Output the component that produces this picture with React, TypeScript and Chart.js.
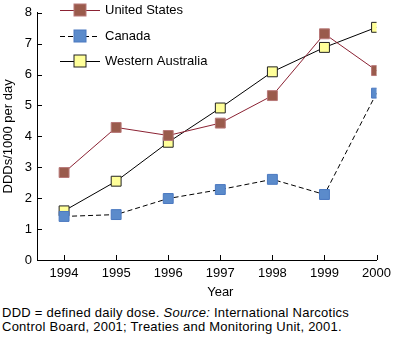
import React, { useEffect, useRef } from "react";
import { Chart, registerables } from "chart.js";

Chart.register(...registerables);

const years = [1994, 1995, 1996, 1997, 1998, 1999, 2000];
const unitedStates = [2.83, 4.29, 4.03, 4.43, 5.32, 7.32, 6.13];
const canada = [1.41, 1.47, 1.99, 2.28, 2.61, 2.12, 5.4];
const westernAustralia = [1.59, 2.55, 3.81, 4.92, 6.09, 6.88, 7.53];
const yTicks = [0, 1, 2, 3, 4, 5, 6, 7, 8];
const seriesNames = ["United States", "Canada", "Western Australia"];

const FONT = "Liberation Sans, Arial, Helvetica, sans-serif";

const customPlugin = {
  id: "custom",
  afterDraw(chart: any) {
    const ctx = chart.ctx;
    const x = chart.scales.x;
    const y = chart.scales.y;
    ctx.save();
    // inward tick marks
    ctx.strokeStyle = "#000";
    ctx.lineWidth = 1;
    ctx.beginPath();
    years.forEach((v) => {
      const px = Math.round(x.getPixelForValue(v)) + 0.5;
      ctx.moveTo(px, y.bottom);
      ctx.lineTo(px, y.bottom - 5);
    });
    yTicks.forEach((v) => {
      const py = Math.round(y.getPixelForValue(v)) + 0.5;
      ctx.moveTo(x.left, py);
      ctx.lineTo(x.left + 5, py);
    });
    ctx.stroke();
    // x title
    ctx.fillStyle = "#000";
    ctx.font = `13px ${FONT}`;
    ctx.textAlign = "center";
    ctx.textBaseline = "middle";
    const cx = (x.getPixelForValue(years[0]) + x.getPixelForValue(years[years.length - 1])) / 2;
    ctx.fillText("Year", cx, 292);
    // legend
    const rows = [10, 36, 61];
    chart.data.datasets.forEach((ds: any, i: number) => {
      const ry = rows[i] + 0.5;
      ctx.strokeStyle = ds.borderColor;
      ctx.lineWidth = 1;
      ctx.setLineDash(ds.borderDash || []);
      ctx.beginPath();
      ctx.moveTo(60, ry);
      ctx.lineTo(100, ry);
      ctx.stroke();
      ctx.setLineDash([]);
      ctx.fillStyle = ds.pointBackgroundColor;
      ctx.fillRect(74, ry - 6.5, 12, 12);
      ctx.strokeStyle = ds.pointBorderColor;
      ctx.strokeRect(74, ry - 6.5, 12, 12);
      ctx.fillStyle = "#000";
      ctx.textAlign = "left";
      ctx.textBaseline = "middle";
      ctx.fillText(ds.label, 105, rows[i]);
    });
    ctx.restore();
  },
};

export default function App() {
  const ref = useRef<HTMLCanvasElement>(null);
  useEffect(() => {
    const mk = (arr: number[]) => years.map((yr, i) => ({ x: yr, y: arr[i] }));
    const chart = new Chart(ref.current!, {
      type: "line",
      data: {
        datasets: [
          {
            label: seriesNames[0],
            data: mk(unitedStates),
            borderColor: "#8B2233",
            borderWidth: 1,
            pointStyle: "rect",
            pointRadius: 7,
            pointBackgroundColor: "#9A5B4C",
            pointBorderColor: "#B87878",
            pointBorderWidth: 1,
          },
          {
            label: seriesNames[1],
            data: mk(canada),
            borderColor: "#000",
            borderWidth: 1,
            borderDash: [5, 3],
            pointStyle: "rect",
            pointRadius: 7,
            pointBackgroundColor: "#5B8BCB",
            pointBorderColor: "#4A78C0",
            pointBorderWidth: 1,
          },
          {
            label: seriesNames[2],
            data: mk(westernAustralia),
            borderColor: "#000",
            borderWidth: 1,
            pointStyle: "rect",
            pointRadius: 7,
            pointBackgroundColor: "#FFFF99",
            pointBorderColor: "#222",
            pointBorderWidth: 1,
          },
        ],
      },
      options: {
        animation: false,
        responsive: false,
        layout: { padding: { top: 8, right: 16, left: 0, bottom: 0 } },
        plugins: { legend: { display: false }, tooltip: { enabled: false } },
        scales: {
          x: {
            type: "linear",
            min: 1993.48,
            max: 2000,
            afterBuildTicks: (s: any) => {
              s.ticks = years.map((v) => ({ value: v }));
            },
            afterFit: (s: any) => {
              s.height = 40;
            },
            grid: { display: false, drawTicks: false, tickLength: 0 },
            border: { display: true, color: "#000", width: 1 },
            ticks: {
              padding: 6,
              color: "#000",
              font: { family: FONT, size: 13 },
              maxRotation: 0,
              autoSkip: false,
              callback: (v: any) => String(v),
            },
          },
          y: {
            min: 0,
            max: 8,
            afterBuildTicks: (s: any) => {
              s.ticks = yTicks.map((v) => ({ value: v }));
            },
            afterFit: (s: any) => {
              s.width = 37;
            },
            grid: { display: false, drawTicks: false, tickLength: 0 },
            border: { display: true, color: "#000", width: 1 },
            ticks: {
              padding: 5,
              color: "#000",
              font: { family: FONT, size: 13 },
            },
            title: {
              display: true,
              text: "DDDs/1000 per day",
              color: "#000",
              font: { family: FONT, size: 13 },
              padding: { top: 1, bottom: 1 },
            },
          },
        },
      },
      plugins: [customPlugin],
    } as any);
    return () => chart.destroy();
  }, []);
  return (
    <div style={{ position: "absolute", left: 0, top: 0, width: 397, height: 338, background: "#fff" }}>
      <canvas ref={ref} width={397} height={300} style={{ display: "block" }} />
      <div
        style={{
          position: "absolute",
          left: 2,
          top: 306,
          fontFamily: FONT,
          fontSize: 13,
          letterSpacing: "0.25px",
          lineHeight: "14px",
          color: "#000",
          whiteSpace: "nowrap",
        }}
      >
        DDD = defined daily dose. <i>Source:</i> International Narcotics
        <br />
        Control Board, 2001; Treaties and Monitoring Unit, 2001.
      </div>
    </div>
  );
}
